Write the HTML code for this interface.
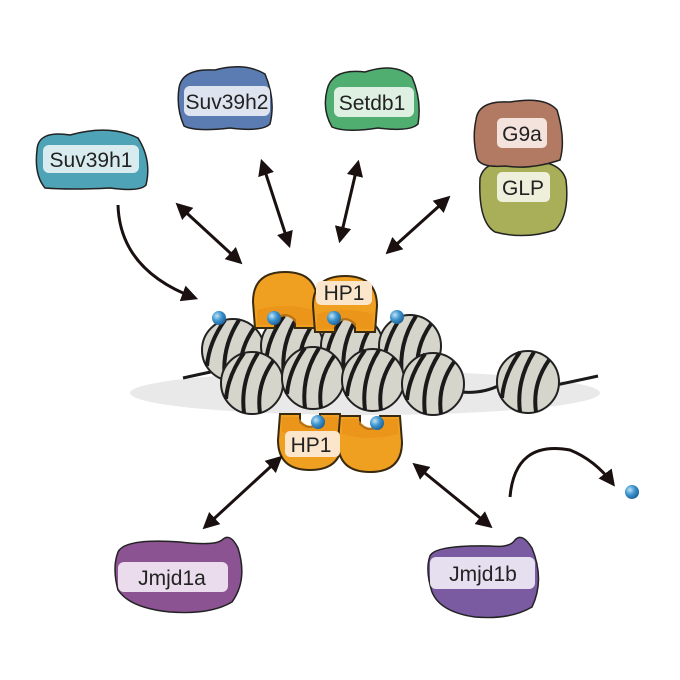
<!DOCTYPE html>
<html><head><meta charset="utf-8"><style>
html,body{margin:0;padding:0;background:#fff}
svg{display:block}
text{font-family:"Liberation Sans",sans-serif;fill:#222}
</style></head><body>
<svg width="680" height="680" viewBox="0 0 680 680" xmlns="http://www.w3.org/2000/svg">
<defs>
<marker id="ah" viewBox="0 0 10 10" refX="8" refY="5" markerWidth="5.5" markerHeight="5.5" orient="auto-start-reverse">
<path d="M0,0 L10,5 L0,10 z" fill="#1a1010"/></marker>
<radialGradient id="bd" cx="0.35" cy="0.35" r="0.7"><stop offset="0" stop-color="#bfe3f5"/><stop offset="0.5" stop-color="#3d95cf"/><stop offset="1" stop-color="#1f5f95"/></radialGradient>
<g id="nuc">
<circle r="31" fill="#d6d5cb" stroke="#222" stroke-width="2"/>
<path d="M-8,-30 Q-24,-8 -26,16 M6,-30 Q-12,-2 -8,30 M21,-22 Q4,2 8,30" fill="none" stroke="#1a1a1a" stroke-width="4"/>
</g>
<g id="hp1">
<path d="M-30,26 L-32,0 Q-32,-30 0,-30 Q32,-30 32,0 L30,26 L10,26 L10,18 Q0,8 -10,18 L-10,26 z" fill="#f0a020" stroke="#3a2a10" stroke-width="2"/>
<path d="M-28,8 Q0,0 28,8 L28,23 L12,23 Q0,6 -12,23 L-28,23 z" fill="#e8901a" opacity="0.7"/>
</g>
</defs>

<ellipse cx="365" cy="393" rx="235" ry="22" fill="#e9e9e9"/>
<path d="M183,378 Q210,372 230,368 M440,388 Q475,398 500,385 M556,385 Q580,380 598,376" fill="none" stroke="#1a1a1a" stroke-width="3"/>

<use href="#nuc" x="233" y="350"/>
<use href="#nuc" x="292" y="346"/>
<use href="#nuc" x="352" y="346"/>
<use href="#nuc" x="410" y="346"/>
<use href="#nuc" x="252" y="383"/>
<use href="#nuc" x="313" y="378"/>
<use href="#nuc" x="373" y="380"/>
<use href="#nuc" x="433" y="384"/>
<use href="#nuc" x="528" y="382"/>

<use href="#hp1" x="285" y="302"/>
<use href="#hp1" x="345" y="306"/>
<rect x="316" y="281" width="56" height="24" rx="5" fill="#fbe6cc"/>
<text x="344" y="300" font-size="21" text-anchor="middle">HP1</text>
<circle cx="219" cy="318" r="7" fill="url(#bd)"/>
<circle cx="274" cy="318" r="7" fill="url(#bd)"/>
<circle cx="334" cy="318" r="7" fill="url(#bd)"/>
<circle cx="397" cy="317" r="7" fill="url(#bd)"/>

<g transform="translate(310,440) scale(1,-1)"><use href="#hp1"/></g>
<g transform="translate(370,442) scale(1,-1)"><use href="#hp1"/></g>
<rect x="285" y="431" width="55" height="26" rx="5" fill="#fbe6cc"/>
<text x="311" y="452" font-size="21" text-anchor="middle">HP1</text>
<circle cx="318" cy="422" r="7" fill="url(#bd)"/>
<circle cx="377" cy="423" r="7" fill="url(#bd)"/>

<g stroke="#1a1010" stroke-width="3" fill="none">
<path d="M118,205 Q120,270 195,298" marker-end="url(#ah)"/>
<line x1="178" y1="205" x2="240" y2="262" marker-start="url(#ah)" marker-end="url(#ah)"/>
<line x1="262" y1="162" x2="289" y2="245" marker-start="url(#ah)" marker-end="url(#ah)"/>
<line x1="358" y1="163" x2="340" y2="240" marker-start="url(#ah)" marker-end="url(#ah)"/>
<line x1="448" y1="198" x2="388" y2="252" marker-start="url(#ah)" marker-end="url(#ah)"/>
<line x1="280" y1="458" x2="205" y2="527" marker-start="url(#ah)" marker-end="url(#ah)"/>
<line x1="415" y1="465" x2="490" y2="526" marker-start="url(#ah)" marker-end="url(#ah)"/>
<path d="M510,497 Q515,440 570,450 Q595,460 613,484" marker-end="url(#ah)"/>
</g>
<circle cx="632" cy="492" r="7" fill="url(#bd)"/>

<path d="M37,150 Q38,130 70,135 Q110,124 138,138 Q152,160 146,185 Q140,192 110,188 Q70,190 45,188 Q34,175 37,150z" fill="#4ea3b6" stroke="#222" stroke-width="1.5"/>
<rect x="43" y="145" width="96" height="28" rx="6" fill="#d8ecef"/>
<text x="91" y="167" font-size="21" text-anchor="middle">Suv39h1</text>
<path d="M179,88 Q182,68 215,70 Q245,62 265,74 Q276,100 270,124 Q262,132 230,128 Q195,132 184,126 Q176,108 179,88z" fill="#5a7cb2" stroke="#222" stroke-width="1.5"/>
<rect x="184" y="86" width="86" height="30" rx="6" fill="#dde3ef"/>
<text x="227" y="109" font-size="21" text-anchor="middle">Suv39h2</text>
<path d="M327,90 Q332,68 365,72 Q395,62 412,77 Q422,100 418,124 Q410,132 378,128 Q345,133 332,127 Q322,110 327,90z" fill="#4fae70" stroke="#222" stroke-width="1.5"/>
<rect x="334" y="87" width="80" height="30" rx="6" fill="#ddf0e2"/>
<text x="372" y="110" font-size="21" text-anchor="middle">Setdb1</text>
<path d="M480,178 Q485,158 520,162 Q560,158 566,180 Q570,215 555,230 Q525,240 495,232 Q478,222 480,178z" fill="#a9ae58" stroke="#222" stroke-width="1.5"/>
<rect x="497" y="172" width="53" height="30" rx="5" fill="#eef0dc"/>
<text x="523" y="195" font-size="21" text-anchor="middle">GLP</text>
<path d="M476,120 Q478,100 510,102 Q545,96 557,110 Q566,140 560,160 Q530,170 505,166 Q480,168 477,158 Q472,138 476,120z" fill="#b27a62" stroke="#222" stroke-width="1.5"/>
<rect x="497" y="118" width="50" height="30" rx="5" fill="#f3e3dc"/>
<text x="522" y="141" font-size="21" text-anchor="middle">G9a</text>
<path d="M118,552 Q125,538 180,542 Q215,546 222,540 Q230,532 238,548 Q248,580 232,602 Q210,615 170,612 Q130,608 118,590 Q112,568 118,552z" fill="#8c5393" stroke="#222" stroke-width="1.5"/>
<rect x="118" y="562" width="110" height="30" rx="6" fill="#eadcec"/>
<text x="172" y="585" font-size="21" text-anchor="middle">Jmjd1a</text>
<path d="M430,556 Q435,545 490,546 Q510,548 515,540 Q522,532 532,548 Q545,580 532,607 Q510,620 475,617 Q440,612 432,592 Q425,570 430,556z" fill="#7a5aa0" stroke="#222" stroke-width="1.5"/>
<rect x="430" y="557" width="105" height="32" rx="6" fill="#e6dff0"/>
<text x="483" y="581" font-size="21" text-anchor="middle">Jmjd1b</text>
</svg>
</body></html>
